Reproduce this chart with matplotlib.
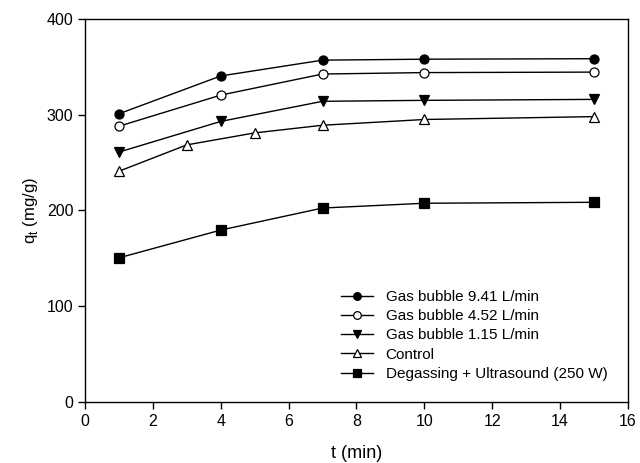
import matplotlib
matplotlib.use('Agg')
import matplotlib.pyplot as plt

plt.rcParams['font.family'] = ['Liberation Sans', 'DejaVu Sans']

t_main = [1, 4, 7, 10, 15]
t_control = [1, 3, 5, 7, 10, 15]

gas_941 = [301, 340.5, 357, 358, 358.5]
gas_452 = [288, 320.5, 342.5, 344, 344.5]
gas_115 = [261, 293, 314, 315, 316]
control = [241, 268.5, 281, 289, 295, 298]
degas_us = [150.5, 179.5, 202.5, 207.5, 208.5]

labels = ['Gas bubble 9.41 L/min', 'Gas bubble 4.52 L/min', 'Gas bubble 1.15 L/min',
          'Control', 'Degassing + Ultrasound (250 W)']

fig = plt.figure(figsize=(6.4, 4.63), dpi=100)
ax = fig.add_axes([0.133, 0.132, 0.848, 0.827])

kw = dict(color='black', linewidth=1.0, markersize=6.5, markeredgewidth=0.9)
ax.plot(t_main, gas_941, 'o-', markerfacecolor='black', label=labels[0], **kw)
ax.plot(t_main, gas_452, 'o-', markerfacecolor='white', label=labels[1], **kw)
ax.plot(t_main, gas_115, 'v-', markerfacecolor='black', label=labels[2], **kw)
ax.plot(t_control, control, '^-', markerfacecolor='white', label=labels[3], **kw)
ax.plot(t_main, degas_us, 's-', markerfacecolor='black', label=labels[4], **kw)

ax.set_xlim(0, 16)
ax.set_ylim(0, 400)
ax.set_xticks(range(0, 17, 2))
ax.set_yticks(range(0, 401, 100))
ax.tick_params(direction='out', length=5, width=1, labelsize=11.5, colors='black')
for s in ax.spines.values():
    s.set_linewidth(1.0)

ax.set_xlabel('t (min)', fontsize=13, labelpad=12)
ax.set_ylabel('q$_\\mathregular{t}$ (mg/g)', fontsize=12, labelpad=5)

ax.legend(loc='lower right', bbox_to_anchor=(0.996, 0.007), frameon=False, fontsize=11,
          handlelength=2.1, handletextpad=0.85, labelspacing=0.34, markerscale=0.85,
          borderaxespad=0.8)

fig.savefig('out.png', dpi=100)
